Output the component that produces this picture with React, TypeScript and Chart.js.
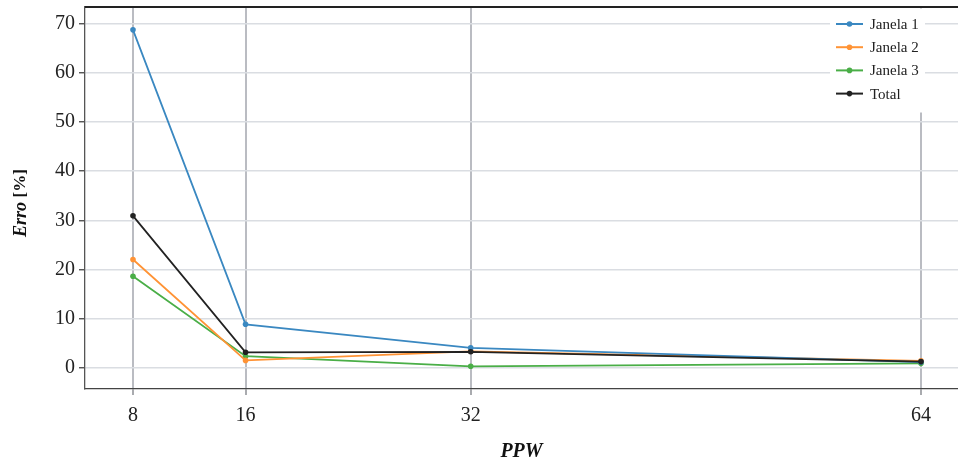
import React, { useEffect, useRef } from "react";
import { Chart, registerables } from "chart.js";

Chart.register(...registerables);

const ppw = [8, 16, 32, 64];
const janela1 = [68.8, 8.8, 4.0, 1.1];
const janela2 = [22.0, 1.45, 3.3, 1.35];
const janela3 = [18.6, 2.3, 0.25, 0.85];
const total = [30.9, 3.1, 3.2, 1.2];
const seriesNames = ["Janela 1", "Janela 2", "Janela 3", "Total"];
const seriesColors = ["#3a88c1", "#ff9335", "#4aae47", "#222222"];
const yTicks = [0, 10, 20, 30, 40, 50, 60, 70];
const xTicks = [8, 16, 32, 64];
const yTitleMain = "Erro";
const yTitleUnit = "[%]";

const FONT = "'Liberation Serif', 'Times New Roman', serif";

export default function App() {
  const ref = useRef<HTMLCanvasElement | null>(null);

  useEffect(() => {
    document.body.style.margin = "0";
    const canvas = ref.current;
    if (!canvas) return;
    const allSeries = [janela1, janela2, janela3, total];
    const orders = [1, 2, 3, 0];

    const framePlugin = {
      id: "frame",
      beforeDatasetsDraw(chart: any) {
        const { ctx, chartArea } = chart;
        ctx.save();
        ctx.strokeStyle = "#222";
        ctx.lineWidth = 2;
        ctx.beginPath();
        ctx.moveTo(chartArea.left, chartArea.top);
        ctx.lineTo(chartArea.right, chartArea.top);
        ctx.stroke();
        ctx.restore();
      },
      afterDraw(chart: any) {
        const { ctx, chartArea } = chart;
        const r = chartArea.right;
        const t = chartArea.top;
        ctx.save();
        // legend
        ctx.fillStyle = "#ffffff";
        ctx.fillRect(r - 128, t + 1.5, 95, 104);
        chart.data.datasets.forEach((ds: any, i: number) => {
          const y = t + 17 + i * 23.2;
          ctx.strokeStyle = ds.borderColor;
          ctx.lineWidth = 2;
          ctx.beginPath();
          ctx.moveTo(r - 122, y);
          ctx.lineTo(r - 95, y);
          ctx.stroke();
          ctx.fillStyle = ds.borderColor;
          ctx.beginPath();
          ctx.arc(r - 108.5, y, 2.8, 0, Math.PI * 2);
          ctx.fill();
          ctx.fillStyle = "#222";
          ctx.font = "15px " + FONT;
          ctx.textAlign = "left";
          ctx.textBaseline = "middle";
          ctx.fillText(ds.label, r - 88, y + 1);
        });
        // y axis title
        const cy = (chartArea.top + chartArea.bottom) / 2 + 5;
        ctx.translate(21, cy);
        ctx.rotate(-Math.PI / 2);
        ctx.fillStyle = "#111";
        ctx.textBaseline = "middle";
        const f1 = "italic bold 18px " + FONT;
        const f2 = "bold 17px " + FONT;
        ctx.font = f1;
        const w1 = ctx.measureText(yTitleMain + " ").width;
        ctx.font = f2;
        const w2 = ctx.measureText(yTitleUnit).width;
        const x0 = -(w1 + w2) / 2;
        ctx.textAlign = "left";
        ctx.font = f1;
        ctx.fillText(yTitleMain + " ", x0, 0);
        ctx.font = f2;
        ctx.fillText(yTitleUnit, x0 + w1, 0);
        ctx.restore();
      },
    };

    const chart = new Chart(canvas, {
      type: "line",
      data: {
        datasets: seriesNames.map((name, i) => ({
          label: name,
          data: ppw.map((x, j) => ({ x, y: allSeries[i][j] })),
          borderColor: seriesColors[i],
          backgroundColor: seriesColors[i],
          borderWidth: 1.8,
          pointRadius: 2.8,
          pointBorderWidth: 0,
          pointBackgroundColor: seriesColors[i],
          tension: 0,
          order: orders[i],
        })),
      },
      options: {
        responsive: false,
        animation: false,
        devicePixelRatio: 1,
        layout: { autoPadding: false, padding: { top: 7, right: 0, left: 0, bottom: 0 } },
        plugins: {
          legend: { display: false },
          tooltip: { enabled: false },
        },
        scales: {
          x: {
            type: "linear",
            min: 4.59,
            max: 66.63,
            afterBuildTicks: (scale: any) => {
              scale.ticks = xTicks.map((v) => ({ value: v }));
            },
            afterFit: (scale: any) => {
              scale.height = 73;
              scale.paddingLeft = 0;
              scale.paddingRight = 0;
            },
            grid: {
              color: "#babcc2",
              lineWidth: 2,
              tickLength: 6,
              tickColor: "#8d8f95",
              tickWidth: 1.5,
            },
            border: { display: true, color: "#444", width: 1.3 },
            ticks: {
              padding: 9,
              color: "#222",
              font: { family: FONT, size: 20 },
              callback: (v: any) => String(v),
            },
            title: {
              display: true,
              text: "PPW",
              color: "#111",
              font: { family: FONT, size: 20, weight: "bold", style: "italic", lineHeight: 1 },
              padding: { top: 0, bottom: 0 },
            },
          },
          y: {
            type: "linear",
            min: -4.38,
            max: 73.46,
            afterBuildTicks: (scale: any) => {
              scale.ticks = yTicks.map((v) => ({ value: v }));
            },
            afterFit: (scale: any) => {
              scale.width = 85;
              scale.paddingTop = 0;
              scale.paddingBottom = 0;
            },
            grid: {
              color: "#dadde2",
              lineWidth: 1.5,
              tickLength: 6,
              tickColor: "#444",
              tickWidth: 1.3,
            },
            border: { display: true, color: "#555", width: 1.3 },
            ticks: {
              padding: 4,
              color: "#222",
              font: { family: FONT, size: 20 },
              callback: (v: any) => String(v),
            },
            title: { display: false },
          },
        },
      },
      plugins: [framePlugin],
    } as any);

    return () => chart.destroy();
  }, []);

  return (
    <div style={{ position: "absolute", left: 0, top: 0, width: 958, height: 462, background: "#fff" }}>
      <canvas ref={ref} width={958} height={462} style={{ display: "block" }} />
    </div>
  );
}
